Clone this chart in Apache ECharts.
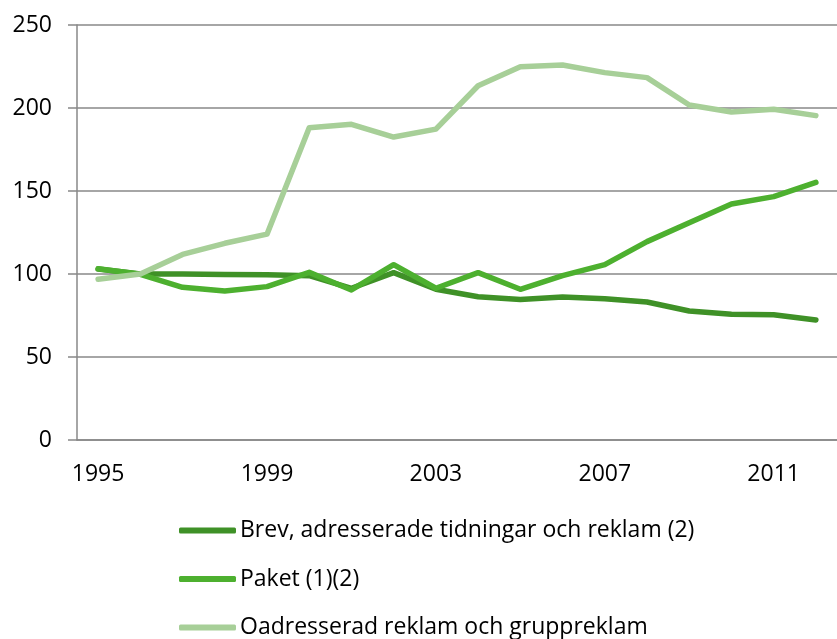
<!DOCTYPE html>
<html>
<head>
<meta charset="utf-8">
<script src="https://cdn.jsdelivr.net/npm/echarts@6/dist/echarts.min.js"></script>
<style>
  html, body { margin: 0; padding: 0; background: #fff; }
  #main { width: 837px; height: 639px; }
</style>
</head>
<body>
<div id="main"></div>
<script>
// 数据
var years = ['1995', '1996', '1997', '1998', '1999', '2000', '2001', '2002', '2003',
    '2004', '2005', '2006', '2007', '2008', '2009', '2010', '2011', '2012'];
var brev = [103, 100, 100, 99.7, 99.5, 99, 91.4, 100.8, 90.8, 86.3, 84.7, 86.1, 85.1, 83.1, 77.7, 75.7, 75.5, 72.3];
var paket = [103.2, 99.8, 92, 89.8, 92.4, 101, 90.4, 105.6, 91.4, 100.8, 90.8, 99, 105.6, 119.5, 130.9, 142.2, 146.6, 155.2];
var oadresserad = [96.8, 100, 111.8, 118.5, 124, 188.1, 190.2, 182.5, 187.3, 213.4, 224.9, 225.9, 221.3, 218.3, 201.8, 197.6, 199.2, 195.4];
var yTicks = { min: 0, max: 250, interval: 50 };

var font = '"Open Sans", sans-serif';
var myChart = echarts.init(document.getElementById('main'));

var option = {
    backgroundColor: '#fff',
    animation: false,
    grid: {
        left: 77,
        top: 25,
        right: -9,
        bottom: 199
    },
    legend: {
        orient: 'vertical',
        left: 174,
        top: 514,
        height: 200,
        itemWidth: 57,
        itemHeight: 6,
        itemGap: 25.5,
        icon: 'roundRect',
        textStyle: { fontFamily: font, fontSize: 23, color: '#000', padding: [0, 0, 0, -1] },
        data: ['Brev, adresserade tidningar och reklam (2)', 'Paket (1)(2)', 'Oadresserad reklam och gruppreklam']
    },
    xAxis: {
        type: 'category',
        data: years,
        boundaryGap: true,
        axisLine: { lineStyle: { color: '#888', width: 1.5 } },
        axisTick: { interval: 0, length: 7, lineStyle: { color: '#888', width: 1.5 } },
        axisLabel: { interval: 3, margin: 23, color: '#000', fontFamily: font, fontSize: 23 }
    },
    yAxis: {
        type: 'value',
        min: yTicks.min,
        max: yTicks.max,
        interval: yTicks.interval,
        axisLine: { show: true, lineStyle: { color: '#888', width: 1.5 } },
        axisTick: { show: true, inside: false, length: 9, lineStyle: { color: '#888', width: 1.5 } },
        splitLine: { lineStyle: { color: '#888', width: 1.5 } },
        axisLabel: { margin: 25, color: '#000', fontFamily: font, fontSize: 23 }
    },
    series: [
        {
            name: 'Brev, adresserade tidningar och reklam (2)',
            type: 'line',
            data: brev,
            symbol: 'none',
            color: '#3f9127',
            lineStyle: { width: 5.5, cap: 'round', join: 'round' }
        },
        {
            name: 'Paket (1)(2)',
            type: 'line',
            data: paket,
            symbol: 'none',
            color: '#4db02f',
            lineStyle: { width: 5.5, cap: 'round', join: 'round' }
        },
        {
            name: 'Oadresserad reklam och gruppreklam',
            type: 'line',
            data: oadresserad,
            symbol: 'none',
            color: '#a7cf98',
            lineStyle: { width: 5.5, cap: 'round', join: 'round' }
        }
    ]
};

myChart.setOption(option);
</script>
</body>
</html>
